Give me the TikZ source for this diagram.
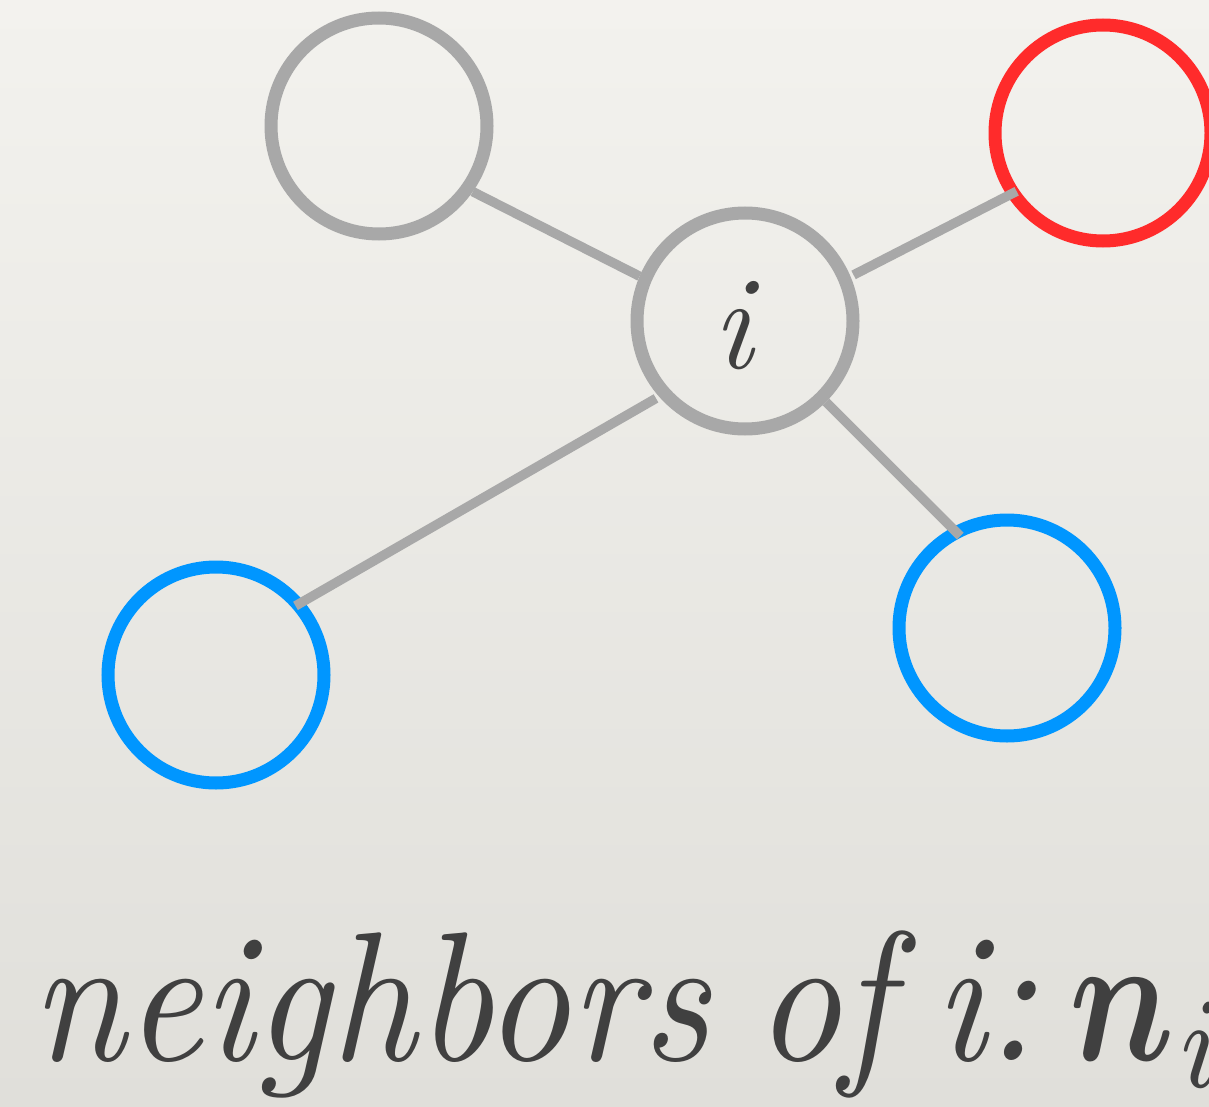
\documentclass[tikz,border=0pt]{standalone}
\usepackage{amsmath,bm}
\usepackage{fontspec}
\usetikzlibrary{calc}
\definecolor{ringgray}{HTML}{A8A8A8}
\definecolor{redring}{HTML}{FF2B2B}
\definecolor{bluering}{HTML}{0096FF}
\definecolor{textc}{HTML}{404040}
\definecolor{bgtop}{HTML}{F3F2EE}
\definecolor{bgbot}{HTML}{E0DFDA}
\newcommand\captxt[2][16.74]{\scalebox{#1}[18.4]{\itshape #2}}
\begin{document}
\begin{tikzpicture}[x=1pt,y=-1pt,
  ringnode/.style={circle, draw=ringgray, line width=13pt, minimum size=216pt, inner sep=0pt},
  edge/.style={draw=ringgray, line width=9.5pt},
  lbl/.style={inner sep=0pt, text=textc},
  capt/.style={inner sep=0pt, text=textc, anchor=base west}]
\useasboundingbox (0,0) rectangle (1209,1107);
\clip (0,0) rectangle (1209,1107);
\shade[top color=bgtop, bottom color=bgbot] (0,0) rectangle (1209,1107);
\node[ringnode] (A) at (379,126) {};
\node[ringnode, draw=redring] (R) at (1103,133) {};
\node[ringnode] (I) at (745,321) {};
\node[ringnode, draw=bluering] (B1) at (216,675) {};
\node[ringnode, draw=bluering] (B2) at (1007,628) {};
\node[lbl] (il) at (733,326) {\fontsize{134}{134}\selectfont\itshape i};
\draw[edge] (I.157) -- (A.-35);
\draw[edge] ($(I.center)!1.03!(I.23)$) -- ($(R.center)!0.91!(R.214)$);
\draw[edge] ($(I.center)!1.03!(I.221)$) -- ($(B1.center)!0.92!(B1.41)$);
\draw[edge] (I.-45) -- ($(B2.center)!0.9!(B2.117)$);
\node[capt] (w1) at (31,1060) {\captxt{neighbors}};
\node[capt] (w2) at (755,1060) {\captxt{of}};
\node[capt] (w3) at (934,1060) {\captxt{i:}};
\node[capt] (w4) at (1069,1060) {\captxt[14.8]{$\boldsymbol{n}_{\kern0.3pt i}$}};
\end{tikzpicture}
\end{document}
